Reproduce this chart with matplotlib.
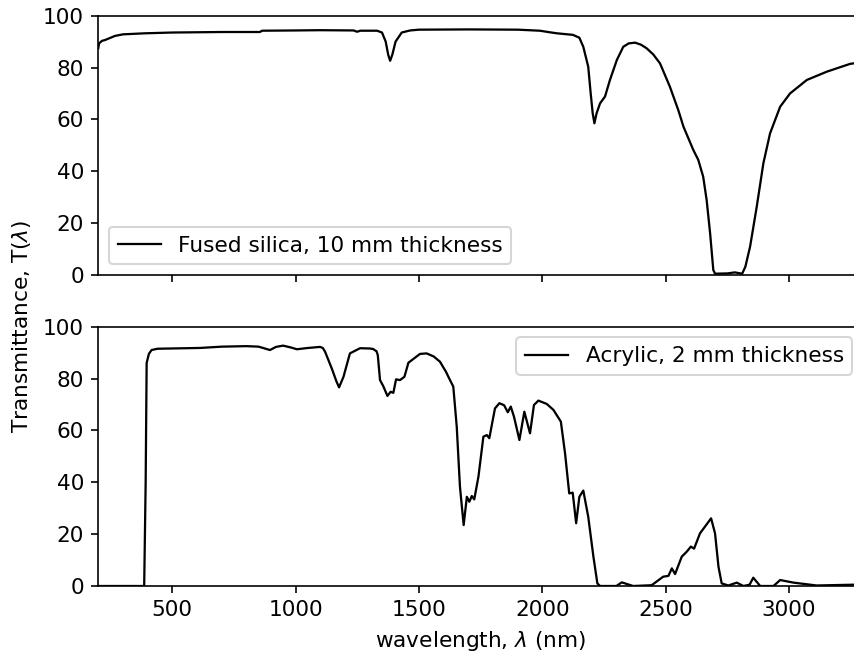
import matplotlib
matplotlib.use("Agg")
import matplotlib.pyplot as plt

# fused silica, 10 mm
silica_wl = [200, 203, 215, 227, 250, 268, 300, 389, 500, 700, 855, 864, 1000, 1100,
             1235, 1249, 1262, 1330, 1350, 1365, 1375, 1383, 1392, 1405, 1430, 1464,
             1500, 1700, 1900, 1990, 2030, 2059, 2124, 2150, 2166, 2186, 2196, 2204,
             2211, 2220, 2234, 2254, 2274, 2302, 2328, 2350, 2376, 2400, 2423, 2450,
             2477, 2517, 2551, 2572, 2612, 2632, 2652, 2666, 2680, 2693, 2700, 2750,
             2780, 2810, 2823, 2842, 2869, 2896, 2923, 2964, 3004, 3072, 3153, 3247,
             3290]
silica_T = [87.5, 89.3, 90.3, 90.6, 91.5, 92.2, 92.8, 93.2, 93.5, 93.7, 93.7, 94.2, 94.3,
            94.4, 94.3, 93.8, 94.2, 94.2, 93.5, 90, 85, 82.6, 85, 90, 93.5, 94.3, 94.6,
            94.7, 94.6, 94.2, 93.6, 93.2, 92.6, 91.5, 88, 80.3, 70, 62.4, 58.5, 62.4,
            66.2, 68.8, 75.2, 82.9, 88, 89.3, 89.6, 88.8, 87.4, 85, 81.6, 72.6, 63.6,
            57.2, 48.2, 44.4, 37.9, 28.9, 16.1, 1.9, 0.5, 0.6, 1, 0.5, 3.2, 10.9, 26.3,
            43.1, 54.6, 64.9, 70, 75.2, 78.4, 81.4, 82]

# acrylic, 2 mm
acrylic_wl = [200, 386, 392, 396, 405, 416, 440, 612, 700, 800, 850, 896, 920, 949, 980,
              1005, 1050, 1099, 1110, 1119, 1146, 1165, 1176, 1194, 1220, 1261, 1300,
              1314, 1328, 1333, 1342, 1355, 1372, 1385, 1396, 1407, 1423, 1441, 1457,
              1504, 1531, 1560, 1585, 1610, 1619, 1639, 1653, 1666, 1681, 1694, 1704,
              1714, 1724, 1741, 1761, 1775, 1785, 1808, 1826, 1845, 1860, 1872, 1885,
              1907, 1927, 1950, 1966, 1984, 2018, 2045, 2075, 2092, 2109, 2123, 2137,
              2150, 2166, 2186, 2207, 2223, 2234, 2300, 2322, 2368, 2443, 2490, 2511,
              2525, 2538, 2565, 2585, 2602, 2615, 2639, 2667, 2684, 2700, 2714, 2727,
              2754, 2788, 2815, 2840, 2855, 2883, 2937, 2964, 3018, 3112, 3260, 3290]
acrylic_T = [0, 0, 40, 86, 89.5, 91, 91.5, 91.8, 92.3, 92.5, 92.3, 91, 92.2, 92.7, 92,
             91.3, 91.8, 92.2, 91.8, 90.4, 84, 79, 76.6, 80.7, 89.7, 91.7, 91.6, 91.4,
             90.5, 89, 79.4, 77.1, 73.3, 74.9, 74.5, 79.7, 79.4, 80.7, 86.1, 89.5, 89.7,
             88.5, 86.5, 82.5, 80.7, 76.9, 61.4, 38.3, 23.5, 34.4, 32.5, 34.7, 33.4, 42.2,
             57.6, 58.2, 57, 68.5, 70.5, 69.7, 67, 69.2, 65.3, 56.3, 67.2, 58.9, 69.8,
             71.5, 70.2, 67.9, 63.4, 51.2, 35.7, 36, 24.2, 34.4, 36.8, 26.7, 11.3, 1, 0,
             0, 1.4, 0, 0.3, 3.6, 3.9, 6.8, 4.6, 11.3, 13.2, 15.2, 14.4, 20.3, 23.9,
             26.1, 20.3, 7.4, 1, 0.2, 1.3, 0, 0.5, 3.2, 0, 0, 2.3, 1.3, 0.2, 0.5, 0.5]

plt.rcParams['font.size'] = 10.5

dpi = 148
fig = plt.figure(figsize=(854 / dpi, 653 / dpi), dpi=dpi)
# axes run past the right edge of the figure, as in the original crop
ax1 = fig.add_axes([0.1151, 0.5789, 0.8955, 0.3971])
ax2 = fig.add_axes([0.1151, 0.1026, 0.8955, 0.3971], sharex=ax1)

ax1.plot(silica_wl, silica_T, 'k', lw=1.1, label='Fused silica, 10 mm thickness')
ax2.plot(acrylic_wl, acrylic_T, 'k', lw=1.1, label='Acrylic, 2 mm thickness')

for ax in (ax1, ax2):
    ax.set_ylim(0, 100)
    ax.set_yticks([0, 20, 40, 60, 80, 100])
ax1.set_xlim(200, 3300)
ax1.set_xticks([500, 1000, 1500, 2000, 2500, 3000])
ax1.tick_params(labelbottom=False)

ax1.legend(loc='lower left')
ax2.legend(loc='upper right')

ax2.set_xlabel('wavelength, $\\lambda$ (nm)')
fig.text(0.025, 0.5, 'Transmittance, T($\\lambda$)', rotation=90,
         ha='center', va='center')

fig.savefig('out.png', dpi=dpi)
